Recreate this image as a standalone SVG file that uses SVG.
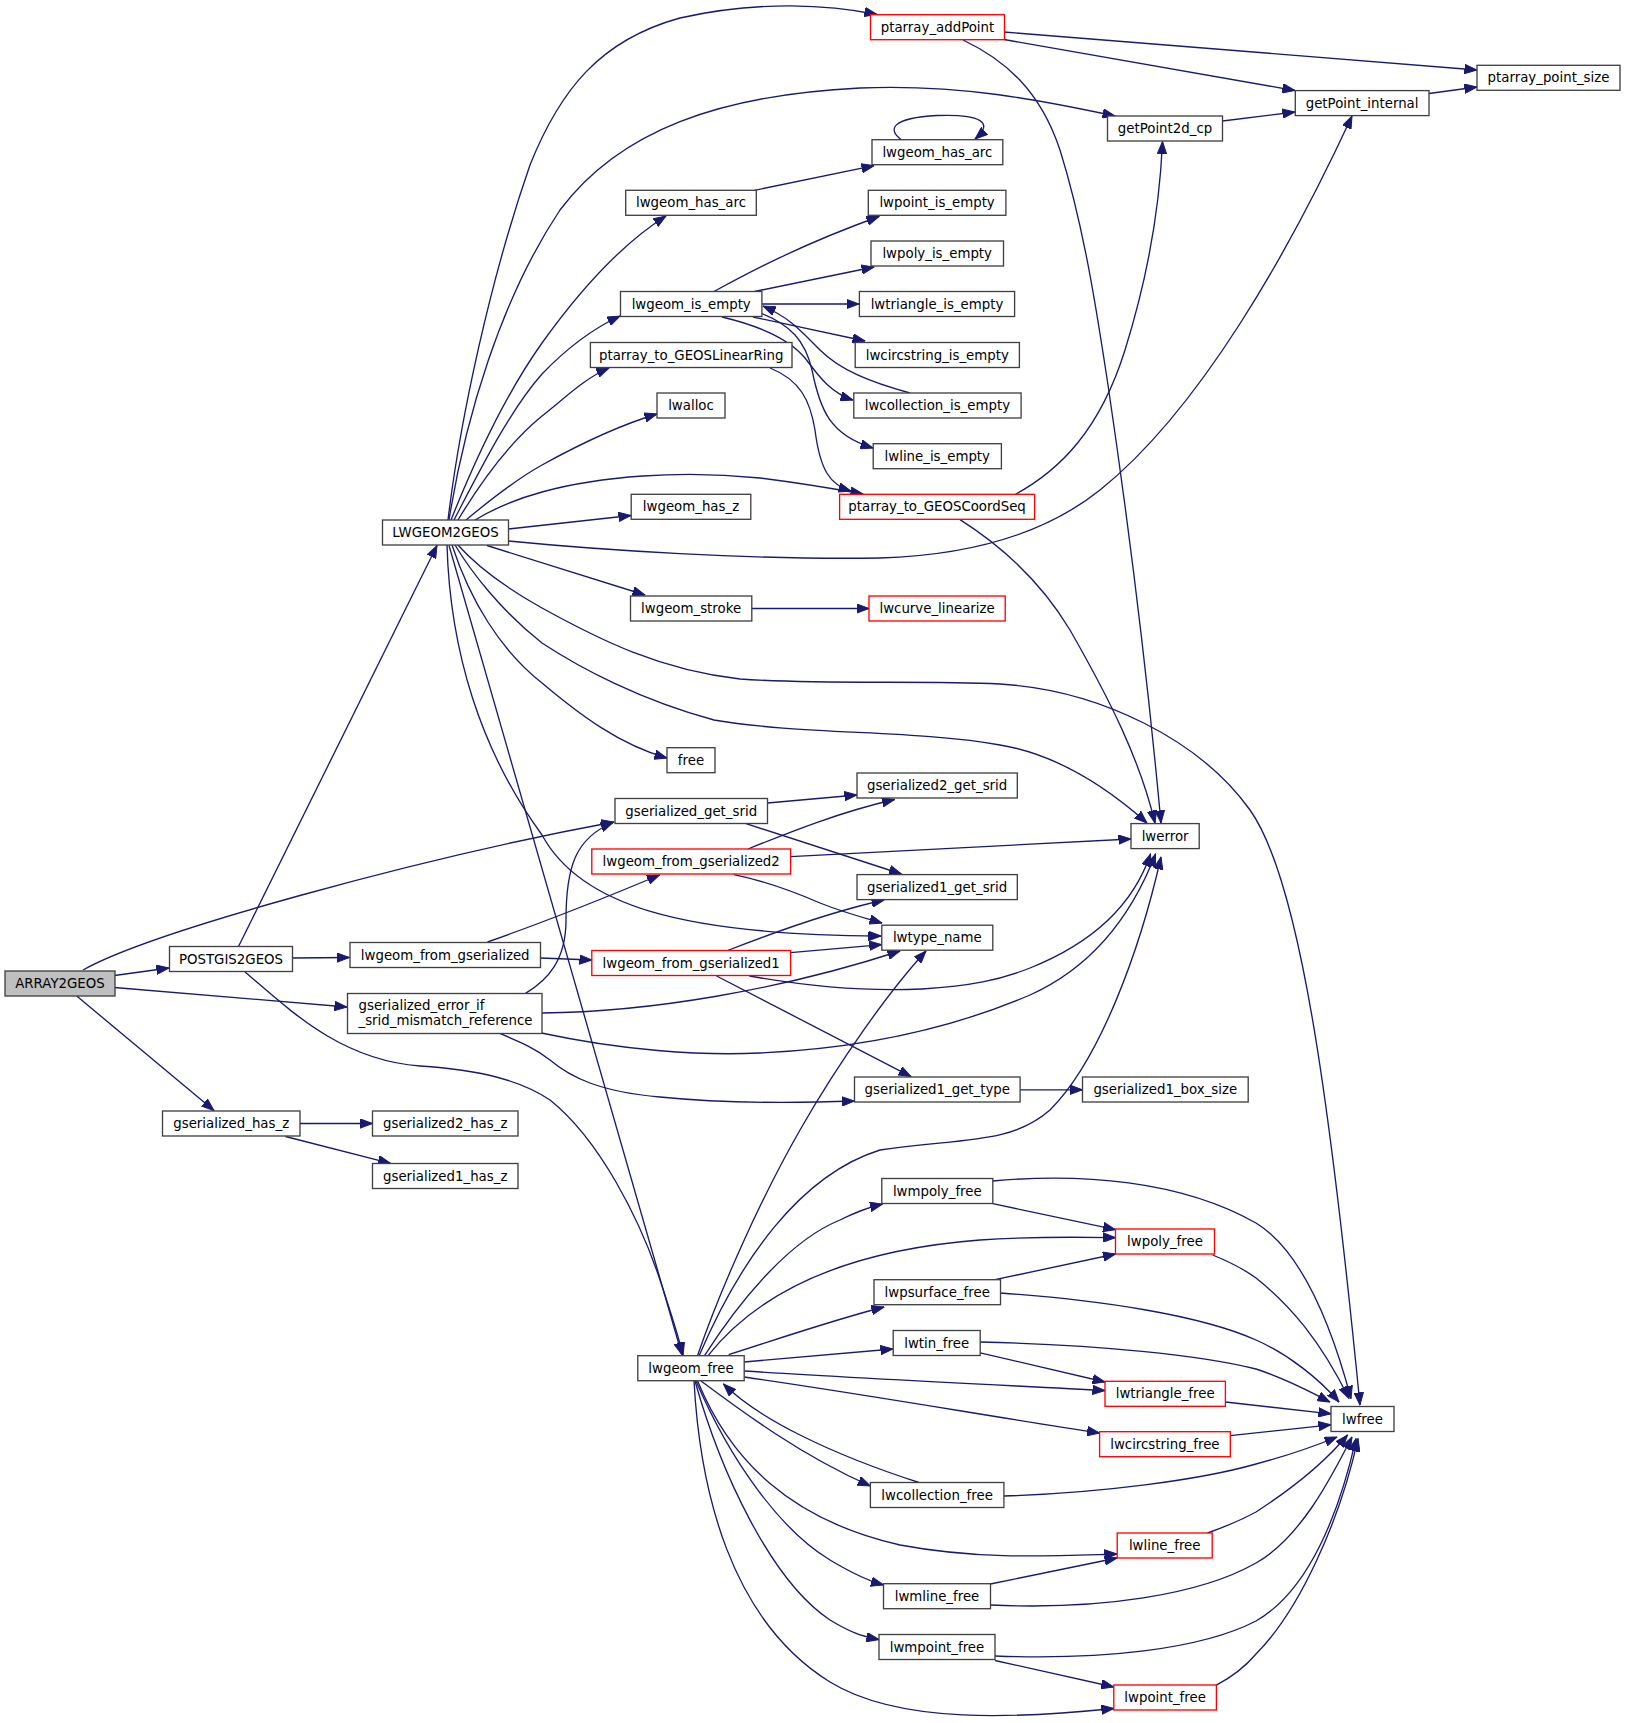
<svg xmlns="http://www.w3.org/2000/svg" width="1625" height="1723" viewBox="0 0 1625 1723">
<style>
.n rect{fill:#ffffff;stroke:#404040;stroke-width:1.33}
.n.r rect{stroke:#ff0000}
.n.g rect{fill:#bfbfbf}
.n text{font-family:"DejaVu Sans","Liberation Sans",sans-serif;font-size:13.33px;text-anchor:middle;fill:#000000}
.n text.l{text-anchor:start}
#edges path{fill:none;stroke:#191970;stroke-width:1.33;marker-end:url(#arr)}
</style>
<defs>
<marker id="arr" viewBox="0 0 13 10" refX="12.5" refY="5" markerWidth="13" markerHeight="10" markerUnits="userSpaceOnUse" orient="auto">
<path d="M0,0.3 L12.5,5 L0,9.7 Z" fill="#191970" stroke="#191970" stroke-width="1"/>
</marker>
</defs>
<rect x="0" y="0" width="1625" height="1723" fill="#ffffff"/>
<g id="edges">
<path d="M83,970 C150,932 420,858 614,822"/>
<path d="M114.5,975.5 L169,968"/>
<path d="M114.5,987.5 L347,1007"/>
<path d="M76.7,996 L214,1110.5"/>
<path d="M238.5,946.5 L437,545.5"/>
<path d="M292.5,958 L349.5,957.5"/>
<path d="M245,972 C290,1010 340,1060 420,1066 C480,1070 520,1080 550,1100 C600,1140 640,1220 660,1280 C670,1310 678,1335 683,1355"/>
<path d="M448,520 C460,420 490,280 530,165 C560,90 600,40 680,18 C760,0 830,5 877,14.5"/>
<path d="M449,520 C465,420 500,300 560,210 C620,130 720,95 860,88 C960,84 1040,100 1115,116"/>
<path d="M451,520 C475,460 505,395 542,343 C580,290 620,245 666,216"/>
<path d="M454,520 C480,470 510,410 542,374 C565,350 590,330 620,316"/>
<path d="M458,520 C485,475 515,438 542,416 C565,398 585,378 609,368"/>
<path d="M466,520 C490,500 515,480 542,465 C580,444 620,425 657,414"/>
<path d="M475,520 C495,508 520,498 542,492 C600,476 680,470 760,478 C800,483 830,488 863,494"/>
<path d="M508.5,529 L631,515.5"/>
<path d="M508.5,541 C600,550 750,560 880,558 C980,555 1050,530 1100,490 C1200,410 1290,250 1352,116"/>
<path d="M487,545.5 L645,595"/>
<path d="M458,545 C480,570 510,590 542,608 C600,640 660,670 740,679 C820,685 920,680 1000,684 C1100,690 1200,740 1250,810 C1300,880 1330,1100 1360,1405"/>
<path d="M455,545 C470,570 500,610 542,643 C580,668 640,700 714,720 C800,735 920,730 1000,745 C1060,755 1110,790 1147,823"/>
<path d="M452,545 C470,600 500,650 542,683 C580,715 620,745 667,758"/>
<path d="M447,545 C450,650 480,750 542,835 C580,905 680,935 881,936"/>
<path d="M449,545.5 L682,1355"/>
<path d="M1004,32 L1477,70"/>
<path d="M1004,39.5 L1295,90.5"/>
<path d="M963,40 C1005,60 1040,90 1060,150 C1085,230 1098,320 1108,385 C1125,500 1145,650 1161,823"/>
<path d="M1222.5,121 L1295,112"/>
<path d="M1429,93.5 L1477,87"/>
<path d="M901,139.5 C888,130 890,118 937,115.5 C980,114 995,122 975,139"/>
<path d="M754.5,190.3 L874,165.7"/>
<path d="M714,291.5 C750,272 800,245 879,216.5"/>
<path d="M754.5,291.5 L874,267"/>
<path d="M762,304 L859,304"/>
<path d="M753,317 L865,341"/>
<path d="M722,317 C760,326 790,340 805,358 C818,375 830,393 853,400"/>
<path d="M762,313.5 C790,325 805,340 812,370 C820,410 830,435 873,448"/>
<path d="M910,393 C870,382 840,370 820,350 C800,330 790,318 763,306"/>
<path d="M770,368 C800,380 810,400 815,430 C820,470 830,485 851,491"/>
<path d="M1015.5,494.3 C1060,470 1100,430 1125,350 C1150,270 1160,200 1162.5,141.5"/>
<path d="M960,519.6 C1000,545 1040,580 1070,630 C1110,700 1140,760 1155,823"/>
<path d="M752,608.5 L869,608.5"/>
<path d="M767.5,803 L857,795"/>
<path d="M746,823.6 L901.5,874"/>
<path d="M748,849 C790,832 840,812 894.5,799.5"/>
<path d="M790.6,856.6 L1131,839"/>
<path d="M734,874.6 C760,880 790,890 820,903 C845,913 865,918 882,923"/>
<path d="M727.6,950.5 C780,930 830,912 884,900"/>
<path d="M790.6,952.7 L881.8,944.6"/>
<path d="M749.4,976 C800,985 860,992 922,989 C970,986 1000,980 1030,968 C1100,940 1135,900 1150.5,854"/>
<path d="M716.6,976 L911,1076.6"/>
<path d="M540.5,958 L592,960"/>
<path d="M487.5,942 C530,927 600,900 659.5,875"/>
<path d="M525.5,993.4 C548,980 566,960 566,920 C566,868 575,838 613,822.5"/>
<path d="M541.5,1013 C650,1012 780,990 900,951"/>
<path d="M541.5,1033 C620,1050 700,1056 760,1053 C870,1048 960,1025 1030,995 C1090,968 1130,920 1155.5,854"/>
<path d="M499.6,1033.4 C520,1042 535,1048 550,1060 C570,1077 600,1092 660,1097 C730,1104 800,1103 854.5,1101"/>
<path d="M1020,1089.8 L1082.5,1089.8"/>
<path d="M300,1123.5 L372.5,1123.5"/>
<path d="M285.5,1136.5 L390.5,1163.3"/>
<path d="M697.5,1355.7 C720,1290 760,1200 800,1130 C840,1060 890,990 926,951"/>
<path d="M699,1356 C740,1260 800,1175 880,1150 C960,1138 1010,1145 1050,1110 C1100,1060 1140,950 1161,857"/>
<path d="M704.5,1355.7 C740,1300 790,1240 840,1220 C860,1210 870,1207 882.5,1204"/>
<path d="M708,1355.7 C760,1290 850,1250 980,1240 C1040,1236 1080,1237 1115.5,1237.7"/>
<path d="M728.7,1354.6 C790,1335 840,1318 884,1307"/>
<path d="M744.2,1362 L893,1349"/>
<path d="M744.2,1371 C850,1378 1000,1385 1105,1390.5"/>
<path d="M744.2,1377 C870,1395 1000,1418 1099.6,1433"/>
<path d="M701,1381 C740,1410 800,1455 870.4,1486"/>
<path d="M919,1482.5 C880,1470 840,1455 800,1435 C770,1420 745,1405 723.5,1384"/>
<path d="M697.6,1381 C730,1460 790,1520 900,1545 C980,1560 1050,1556 1117,1554"/>
<path d="M696,1381 C730,1460 780,1530 830,1560 C850,1572 865,1580 883.5,1585"/>
<path d="M695,1381 C720,1470 770,1580 830,1620 C850,1632 860,1636 879,1639.6"/>
<path d="M694,1381 C700,1490 730,1620 830,1682 C900,1725 1020,1718 1113.8,1708.5"/>
<path d="M992.8,1181 C1080,1173 1180,1180 1256,1223 C1300,1250 1330,1320 1351,1398.5"/>
<path d="M992.8,1203.7 L1115.5,1229.7"/>
<path d="M995,1279.7 L1115.5,1254"/>
<path d="M1000.4,1293 C1100,1300 1200,1315 1256,1340 C1290,1355 1320,1380 1339,1402"/>
<path d="M980.3,1342 C1100,1345 1200,1355 1256,1369 C1290,1380 1310,1392 1330,1402"/>
<path d="M980.3,1352.8 L1105,1382"/>
<path d="M1225.4,1402 L1331,1413.8"/>
<path d="M1230.3,1435.7 L1331,1424.8"/>
<path d="M1004,1496 C1100,1493 1200,1480 1256,1464 C1290,1455 1315,1446 1337,1437"/>
<path d="M1207.5,1533 C1230,1525 1245,1518 1256,1512 C1290,1490 1325,1462 1347.5,1435"/>
<path d="M990.4,1584 L1117,1558"/>
<path d="M990.4,1605 C1100,1610 1200,1595 1256,1563 C1300,1538 1330,1480 1352,1437"/>
<path d="M995,1656 C1100,1660 1200,1650 1256,1621 C1310,1590 1340,1510 1356,1438.6"/>
<path d="M995,1660.5 L1113.8,1687"/>
<path d="M1216,1685.3 C1230,1678 1245,1667 1256,1654 C1300,1610 1340,1520 1358,1438.6"/>
<path d="M1212.6,1255 C1230,1262 1245,1270 1256,1278 C1290,1305 1320,1340 1349,1398.5"/>
</g>
<g id="n_ARRAY2GEOS" class="n g"><rect x="5" y="971" width="110" height="25"/><text x="60" y="988">ARRAY2GEOS</text></g>
<g id="n_POSTGIS2GEOS" class="n"><rect x="169.5" y="946.5" width="123" height="25"/><text x="231" y="963.5">POSTGIS2GEOS</text></g>
<g id="n_LWGEOM2GEOS" class="n"><rect x="382.5" y="520" width="126" height="25"/><text x="445.5" y="537">LWGEOM2GEOS</text></g>
<g id="n_gserialized_get_srid" class="n"><rect x="615" y="798.5" width="152.5" height="25"/><text x="691.2" y="815.5">gserialized_get_srid</text></g>
<g id="n_gserialized_has_z" class="n"><rect x="162.5" y="1111" width="137.5" height="25"/><text x="231.2" y="1128">gserialized_has_z</text></g>
<g id="n_gserialized2_has_z" class="n"><rect x="372.5" y="1111" width="145.5" height="25"/><text x="445.2" y="1128">gserialized2_has_z</text></g>
<g id="n_gserialized1_has_z" class="n"><rect x="372.5" y="1163.5" width="145.5" height="25"/><text x="445.2" y="1180.5">gserialized1_has_z</text></g>
<g id="n_lwgeom_from_gserialized" class="n"><rect x="350" y="942.5" width="190.5" height="25"/><text x="445.2" y="959.5">lwgeom_from_gserialized</text></g>
<g id="n_gserialized_error_if_srid_mismatch_reference" class="n"><rect x="347.5" y="993.5" width="194.5" height="40"/><text class="l" x="358.5" y="1010">gserialized_error_if</text><text class="l" x="358.5" y="1025">_srid_mismatch_reference</text></g>
<g id="n_ptarray_addPoint" class="n r"><rect x="870.5" y="14.7" width="134" height="25"/><text x="937.5" y="31.7">ptarray_addPoint</text></g>
<g id="n_getPoint2d_cp" class="n"><rect x="1107.5" y="116" width="115" height="25"/><text x="1165" y="133">getPoint2d_cp</text></g>
<g id="n_lwgeom_has_arc_a" class="n"><rect x="625.7" y="190.3" width="130.6" height="25"/><text x="691" y="207.3">lwgeom_has_arc</text></g>
<g id="n_lwgeom_has_arc_b" class="n"><rect x="872" y="139.7" width="130.8" height="25"/><text x="937.4" y="156.7">lwgeom_has_arc</text></g>
<g id="n_lwgeom_is_empty" class="n"><rect x="620.5" y="291.5" width="141.4" height="25"/><text x="691.2" y="308.5">lwgeom_is_empty</text></g>
<g id="n_ptarray_to_GEOSLinearRing" class="n"><rect x="590.4" y="342.5" width="201.6" height="25"/><text x="691.2" y="359.5">ptarray_to_GEOSLinearRing</text></g>
<g id="n_lwalloc" class="n"><rect x="657" y="393" width="68" height="25"/><text x="691" y="410">lwalloc</text></g>
<g id="n_ptarray_to_GEOSCoordSeq" class="n r"><rect x="839.6" y="494.3" width="195" height="25"/><text x="937.1" y="511.3">ptarray_to_GEOSCoordSeq</text></g>
<g id="n_lwgeom_has_z" class="n"><rect x="631.2" y="494.3" width="119.6" height="25"/><text x="691" y="511.3">lwgeom_has_z</text></g>
<g id="n_getPoint_internal" class="n"><rect x="1295.3" y="90.6" width="133.7" height="25"/><text x="1362.1" y="107.6">getPoint_internal</text></g>
<g id="n_lwgeom_stroke" class="n"><rect x="630.5" y="596" width="121.3" height="25"/><text x="691.1" y="613">lwgeom_stroke</text></g>
<g id="n_lwfree" class="n"><rect x="1331" y="1406.5" width="63" height="25"/><text x="1362.5" y="1423.5">lwfree</text></g>
<g id="n_lwerror" class="n"><rect x="1131" y="823.6" width="68.2" height="25"/><text x="1165.1" y="840.6">lwerror</text></g>
<g id="n_free" class="n"><rect x="667" y="747.7" width="48" height="25"/><text x="691" y="764.7">free</text></g>
<g id="n_lwtype_name" class="n"><rect x="881.8" y="925.2" width="111" height="25"/><text x="937.3" y="942.2">lwtype_name</text></g>
<g id="n_lwgeom_free" class="n"><rect x="637.8" y="1355.7" width="106.4" height="25"/><text x="691" y="1372.7">lwgeom_free</text></g>
<g id="n_ptarray_point_size" class="n"><rect x="1477" y="65.3" width="143" height="25"/><text x="1548.5" y="82.3">ptarray_point_size</text></g>
<g id="n_lwpoint_is_empty" class="n"><rect x="868.3" y="190.3" width="137.6" height="25"/><text x="937.1" y="207.3">lwpoint_is_empty</text></g>
<g id="n_lwpoly_is_empty" class="n"><rect x="871" y="241" width="132.5" height="25"/><text x="937.2" y="258">lwpoly_is_empty</text></g>
<g id="n_lwtriangle_is_empty" class="n"><rect x="859.4" y="291.5" width="155.2" height="25"/><text x="937" y="308.5">lwtriangle_is_empty</text></g>
<g id="n_lwcircstring_is_empty" class="n"><rect x="855.2" y="342.5" width="164.2" height="25"/><text x="937.3" y="359.5">lwcircstring_is_empty</text></g>
<g id="n_lwcollection_is_empty" class="n"><rect x="853.8" y="393" width="167.3" height="25"/><text x="937.4" y="410">lwcollection_is_empty</text></g>
<g id="n_lwline_is_empty" class="n"><rect x="873.2" y="443.7" width="128.2" height="25"/><text x="937.3" y="460.7">lwline_is_empty</text></g>
<g id="n_lwcurve_linearize" class="n r"><rect x="869" y="596" width="136.2" height="25"/><text x="937.1" y="613">lwcurve_linearize</text></g>
<g id="n_gserialized2_get_srid" class="n"><rect x="857" y="773" width="160.3" height="25"/><text x="937.1" y="790">gserialized2_get_srid</text></g>
<g id="n_lwgeom_from_gserialized2" class="n r"><rect x="591.8" y="849" width="198.8" height="25"/><text x="691.2" y="866">lwgeom_from_gserialized2</text></g>
<g id="n_gserialized1_get_srid" class="n"><rect x="857" y="874.6" width="160.3" height="25"/><text x="937.1" y="891.6">gserialized1_get_srid</text></g>
<g id="n_lwgeom_from_gserialized1" class="n r"><rect x="591.8" y="950.5" width="198.8" height="25"/><text x="691.2" y="967.5">lwgeom_from_gserialized1</text></g>
<g id="n_gserialized1_get_type" class="n"><rect x="854.5" y="1077" width="165.6" height="25"/><text x="937.3" y="1094">gserialized1_get_type</text></g>
<g id="n_gserialized1_box_size" class="n"><rect x="1082.5" y="1077" width="165.7" height="25"/><text x="1165.3" y="1094">gserialized1_box_size</text></g>
<g id="n_lwmpoly_free" class="n"><rect x="881.8" y="1178.5" width="111" height="25"/><text x="937.3" y="1195.5">lwmpoly_free</text></g>
<g id="n_lwpoly_free" class="n r"><rect x="1115.5" y="1229" width="99" height="25"/><text x="1165" y="1246">lwpoly_free</text></g>
<g id="n_lwpsurface_free" class="n"><rect x="874" y="1279.7" width="126.5" height="25"/><text x="937.2" y="1296.7">lwpsurface_free</text></g>
<g id="n_lwtin_free" class="n"><rect x="893.2" y="1330.5" width="87" height="25"/><text x="936.7" y="1347.5">lwtin_free</text></g>
<g id="n_lwtriangle_free" class="n r"><rect x="1105" y="1381.3" width="120.4" height="25"/><text x="1165.2" y="1398.3">lwtriangle_free</text></g>
<g id="n_lwcircstring_free" class="n r"><rect x="1099.6" y="1431.7" width="130.7" height="25"/><text x="1164.9" y="1448.7">lwcircstring_free</text></g>
<g id="n_lwcollection_free" class="n"><rect x="870.4" y="1482.5" width="133.5" height="25"/><text x="937.1" y="1499.5">lwcollection_free</text></g>
<g id="n_lwline_free" class="n r"><rect x="1117.2" y="1533" width="95" height="25"/><text x="1164.7" y="1550">lwline_free</text></g>
<g id="n_lwmline_free" class="n"><rect x="883.5" y="1583.7" width="107" height="25"/><text x="937" y="1600.7">lwmline_free</text></g>
<g id="n_lwmpoint_free" class="n"><rect x="879" y="1634.5" width="116" height="25"/><text x="937" y="1651.5">lwmpoint_free</text></g>
<g id="n_lwpoint_free" class="n r"><rect x="1113.8" y="1685" width="102.6" height="25"/><text x="1165.1" y="1702">lwpoint_free</text></g>
</svg>
